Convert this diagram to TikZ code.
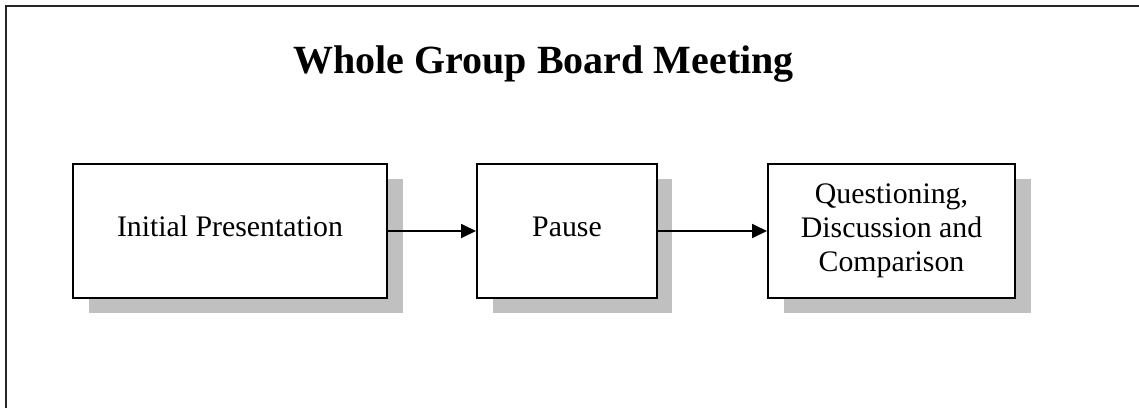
\documentclass[tikz,border=0pt]{standalone}
\usepackage{fontspec}
\setmainfont{Liberation Serif}
\usetikzlibrary{arrows.meta}

\definecolor{shadowgray}{HTML}{C0C0C0}
\definecolor{framegray}{HTML}{262626}

\tikzset{
  stagebox/.style={draw=black, line width=2pt, fill=white, rectangle,
    inner sep=0pt, font=\fontsize{29.8}{34}\selectfont, align=center},
  oneline/.style={text height=20pt, text depth=10pt},
  dropshadow/.style={fill=shadowgray, draw=none},
  flow/.style={line width=1.8pt, -{Triangle[length=15pt,width=14pt]}},
  titletext/.style={font=\fontsize{40}{48}\selectfont\bfseries, anchor=base, inner sep=0pt},
}

\begin{document}
\begin{tikzpicture}[x=1pt, y=-1pt]
  \useasboundingbox (0,0) rectangle (1139,408);

  % open outer frame (left and top edges only)
  \draw[framegray, line width=2pt] (5.5,408) -- (5.5,6) -- (1139,6);

  % heading
  \node[titletext] (title) at (543.5,73) {Whole Group Board Meeting};

  % drop shadows behind the stage boxes
  \fill[dropshadow] (89,179) rectangle (403,313);
  \fill[dropshadow] (493,179) rectangle (672,313);
  \fill[dropshadow] (784,179) rectangle (1031,313);

  % stage boxes
  \node[stagebox, oneline, minimum width=314pt, minimum height=134pt] (present) at (230,231) {Initial Presentation};
  \node[stagebox, oneline, minimum width=180pt, minimum height=134pt] (pause) at (567,231) {Pause};
  \node[stagebox, minimum width=247pt, minimum height=134pt] (discuss) at (891.5,231) {Questioning,\\Discussion and\\Comparison};

  % connectors
  \draw[flow] (present.east) -- (pause.west);
  \draw[flow] (pause.east) -- (discuss.west);
\end{tikzpicture}
\end{document}
